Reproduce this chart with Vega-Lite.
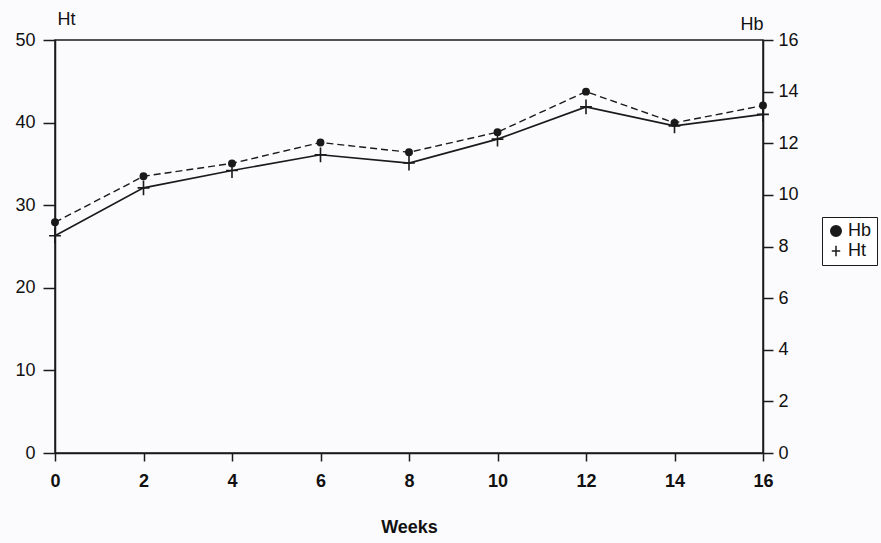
{
  "$schema": "https://vega.github.io/schema/vega-lite/v6.json",
  "width": 708,
  "height": 413,
  "autosize": "none",
  "padding": {"left": 55, "top": 40, "right": 118, "bottom": 90},
  "background": "#fbfbfd",
  "config": {
    "font": "Liberation Sans",
    "view": {"stroke": "#1a1a1a", "strokeWidth": 1.5},
    "axis": {
      "domainColor": "#1a1a1a", "domainWidth": 1.5,
      "tickColor": "#1a1a1a", "tickWidth": 1.5,
      "labelColor": "#111", "titleColor": "#111",
      "grid": false
    }
  },
  "data": {
    "values": [
      {"week": 0, "series": "Ht", "value": 26.3},
      {"week": 2, "series": "Ht", "value": 32.1},
      {"week": 4, "series": "Ht", "value": 34.2},
      {"week": 6, "series": "Ht", "value": 36.1},
      {"week": 8, "series": "Ht", "value": 35.1},
      {"week": 10, "series": "Ht", "value": 38.0},
      {"week": 12, "series": "Ht", "value": 41.9},
      {"week": 14, "series": "Ht", "value": 39.6},
      {"week": 16, "series": "Ht", "value": 41.0},
      {"week": 0, "series": "Hb", "value": 8.94},
      {"week": 2, "series": "Hb", "value": 10.72},
      {"week": 4, "series": "Hb", "value": 11.22},
      {"week": 6, "series": "Hb", "value": 12.03},
      {"week": 8, "series": "Hb", "value": 11.65},
      {"week": 10, "series": "Hb", "value": 12.43},
      {"week": 12, "series": "Hb", "value": 14.0},
      {"week": 14, "series": "Hb", "value": 12.79},
      {"week": 16, "series": "Hb", "value": 13.46}
    ]
  },
  "encoding": {
    "x": {
      "field": "week", "type": "quantitative",
      "scale": {"domain": [0, 16], "nice": false, "zero": false},
      "axis": {
        "values": [0, 2, 4, 6, 8, 10, 12, 14, 16],
        "title": "Weeks", "titleFontWeight": "bold", "titlePadding": 28,
        "titleFontSize": 18, "labelFontSize": 18,
        "labelFontWeight": "bold", "tickSize": 8, "labelPadding": 11,
        "labelFlush": false
      }
    }
  },
  "layer": [
    {
      "transform": [{"filter": "datum.series === 'Ht'"}],
      "encoding": {
        "y": {
          "field": "value", "type": "quantitative",
          "scale": {"domain": [0, 50], "nice": false},
          "axis": {
            "orient": "left", "values": [0, 10, 20, 30, 40, 50],
            "title": "Ht", "titleAngle": 0, "titleAlign": "left",
            "titleBaseline": "alphabetic", "titleX": 2, "titleY": -16,
            "titleFontSize": 18, "labelFontSize": 18,
            "titleFontWeight": "normal", "tickSize": 12, "labelPadding": 8
          }
        }
      },
      "layer": [
        {"mark": {"type": "line", "color": "#1a1a1a", "strokeWidth": 1.6}},
        {
          "mark": {"type": "point", "stroke": "#1a1a1a", "strokeWidth": 1.6, "size": 220, "opacity": 1},
          "encoding": {
            "shape": {
              "field": "series", "type": "nominal",
              "scale": {"domain": ["Hb", "Ht"], "range": ["circle", "M-0.8,0H0.8M0,-1V1"]},
              "legend": {
                "orient": "none", "legendX": 767, "legendY": 177,
                "title": null, "labelFontSize": 18, "labelColor": "#111",
                "strokeColor": "#1a1a1a", "fillColor": "#ffffff", "padding": 5,
                "symbolSize": 110, "rowPadding": 2, "labelOffset": 3
              }
            },
            "fill": {
              "field": "series", "type": "nominal",
              "scale": {"domain": ["Hb", "Ht"], "range": ["#1a1a1a", "transparent"]},
              "legend": {
                "orient": "none", "legendX": 767, "legendY": 177,
                "title": null, "labelFontSize": 18, "labelColor": "#111",
                "strokeColor": "#1a1a1a", "fillColor": "#ffffff", "padding": 5,
                "symbolSize": 110, "rowPadding": 2, "labelOffset": 3
              }
            }
          }
        }
      ]
    },
    {
      "transform": [{"filter": "datum.series === 'Hb'"}],
      "encoding": {
        "y": {
          "field": "value", "type": "quantitative",
          "scale": {"domain": [0, 16], "nice": false},
          "axis": {
            "orient": "right", "values": [0, 2, 4, 6, 8, 10, 12, 14, 16],
            "title": "Hb", "titleAngle": 0, "titleAlign": "right",
            "titleBaseline": "alphabetic", "titleX": 0, "titleY": -11,
            "titleFontSize": 18, "labelFontSize": 18,
            "titleFontWeight": "normal", "tickSize": 10, "labelPadding": 5
          }
        }
      },
      "layer": [
        {"mark": {"type": "line", "color": "#1a1a1a", "strokeWidth": 1.4, "strokeDash": [7, 4]}},
        {
          "mark": {"type": "point", "stroke": "#1a1a1a", "strokeWidth": 1.6, "size": 40, "opacity": 1},
          "encoding": {
            "shape": {"field": "series", "type": "nominal", "scale": {"domain": ["Hb", "Ht"], "range": ["circle", "M-0.8,0H0.8M0,-1V1"]}},
            "fill": {"field": "series", "type": "nominal", "scale": {"domain": ["Hb", "Ht"], "range": ["#1a1a1a", "transparent"]}}
          }
        }
      ]
    }
  ],
  "resolve": {"scale": {"y": "independent"}}
}
